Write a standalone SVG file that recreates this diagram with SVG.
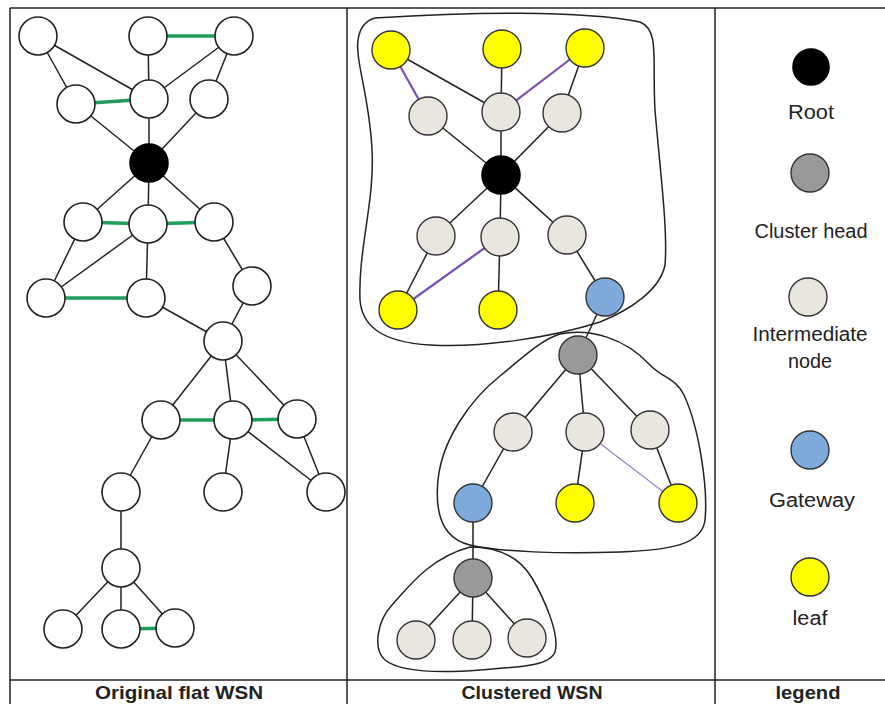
<svg xmlns="http://www.w3.org/2000/svg" width="885" height="704" viewBox="0 0 885 704">
<style>
.e{stroke:#222;stroke-width:1.5;fill:none}
.g{stroke:#1f9e5a;stroke-width:3.5;fill:none}
.p{stroke:#7a4fb5;stroke-width:2.2;fill:none}
.pt{stroke:#9a80c8;stroke-width:1.2;fill:none}
.w{fill:#fff;stroke:#222;stroke-width:1.6}
.r{fill:#000;stroke:#000;stroke-width:1.6}
.y{fill:#ffff00;stroke:#333;stroke-width:1.4}
.i{fill:#e8e6df;stroke:#333;stroke-width:1.4}
.h{fill:#999;stroke:#333;stroke-width:1.4}
.b{fill:#7faadc;stroke:#333;stroke-width:1.4}
.cl{fill:none;stroke:#222;stroke-width:1.5}
.fr{stroke:#222;stroke-width:1.5}
.t{font-family:"Liberation Sans",Arial,sans-serif;font-size:20px;fill:#222;text-anchor:middle}
.tb{font-family:"Liberation Sans",Arial,sans-serif;font-size:19px;font-weight:bold;fill:#222;text-anchor:middle}
</style>
<rect width="885" height="704" fill="#fff"/>
<g id="frame">
<line class="fr" x1="10" y1="8" x2="885" y2="8"/>
<line class="fr" x1="10" y1="680" x2="885" y2="680"/>
<line class="fr" x1="10" y1="8" x2="10" y2="704"/>
<line class="fr" x1="347" y1="8" x2="347" y2="704"/>
<line class="fr" x1="715" y1="8" x2="715" y2="704"/>
</g>
<g id="clusters">
<path class="cl" d="M 375,18 C 470,12 580,10 640,22 C 660,30 652,60 655,110 C 660,170 668,230 665,265 C 660,290 630,310 600,322 C 550,338 480,348 430,345 C 380,342 362,325 360,300 C 358,250 375,200 372,150 C 370,100 355,60 358,40 C 360,25 368,20 375,18 Z"/>
<path class="cl" d="M 560,334 C 590,328 625,338 650,365 C 662,378 676,378 684,395 C 700,430 708,490 705,520 C 702,545 670,550 620,552 C 560,554 500,552 470,545 C 440,538 435,510 438,480 C 442,440 470,400 500,376 C 520,360 540,340 560,334 Z"/>
<path class="cl" d="M 470,547 C 500,547 520,558 532,578 C 545,600 560,635 555,652 C 550,666 520,667 480,670 C 440,673 400,672 385,660 C 372,648 378,620 392,605 C 410,585 430,558 470,547 Z"/>
</g>
<g id="connectors">
<line class="e" x1="38" y1="36" x2="76" y2="104"/>
<line class="e" x1="38" y1="36" x2="149" y2="99"/>
<line class="e" x1="148" y1="36" x2="149" y2="99"/>
<line class="e" x1="234" y1="36" x2="149" y2="99"/>
<line class="e" x1="234" y1="36" x2="209" y2="99"/>
<line class="g" x1="148" y1="36" x2="234" y2="36"/>
<line class="g" x1="76" y1="104" x2="149" y2="99"/>
<line class="e" x1="76" y1="104" x2="149" y2="163"/>
<line class="e" x1="149" y1="99" x2="149" y2="163"/>
<line class="e" x1="209" y1="99" x2="149" y2="163"/>
<line class="e" x1="149" y1="163" x2="83" y2="222"/>
<line class="e" x1="149" y1="163" x2="148" y2="224"/>
<line class="e" x1="149" y1="163" x2="214" y2="222"/>
<line class="g" x1="83" y1="222" x2="148" y2="224"/>
<line class="g" x1="148" y1="224" x2="214" y2="222"/>
<line class="e" x1="83" y1="222" x2="46" y2="298"/>
<line class="e" x1="148" y1="224" x2="46" y2="298"/>
<line class="e" x1="148" y1="224" x2="146" y2="298"/>
<line class="e" x1="214" y1="222" x2="252" y2="286"/>
<line class="g" x1="46" y1="298" x2="146" y2="298"/>
<line class="e" x1="146" y1="298" x2="223" y2="341"/>
<line class="e" x1="252" y1="286" x2="223" y2="341"/>
<line class="e" x1="223" y1="341" x2="161" y2="420"/>
<line class="e" x1="223" y1="341" x2="233" y2="420"/>
<line class="e" x1="223" y1="341" x2="297" y2="419"/>
<line class="g" x1="161" y1="420" x2="233" y2="420"/>
<line class="g" x1="233" y1="420" x2="297" y2="419"/>
<line class="e" x1="161" y1="420" x2="121" y2="492"/>
<line class="e" x1="233" y1="420" x2="223" y2="492"/>
<line class="e" x1="233" y1="420" x2="326" y2="492"/>
<line class="e" x1="297" y1="419" x2="326" y2="492"/>
<line class="e" x1="121" y1="492" x2="121" y2="568"/>
<line class="e" x1="121" y1="568" x2="63" y2="629"/>
<line class="e" x1="121" y1="568" x2="121" y2="629"/>
<line class="e" x1="121" y1="568" x2="175" y2="628"/>
<line class="g" x1="121" y1="629" x2="175" y2="628"/>
<line class="p" x1="391" y1="50" x2="428" y2="116"/>
<line class="e" x1="391" y1="50" x2="501" y2="112"/>
<line class="e" x1="502" y1="49" x2="501" y2="112"/>
<line class="p" x1="585" y1="48" x2="501" y2="112"/>
<line class="e" x1="585" y1="48" x2="562" y2="113"/>
<line class="e" x1="428" y1="116" x2="501" y2="175"/>
<line class="e" x1="501" y1="112" x2="501" y2="175"/>
<line class="e" x1="562" y1="113" x2="501" y2="175"/>
<line class="e" x1="501" y1="175" x2="436" y2="236"/>
<line class="e" x1="501" y1="175" x2="500" y2="237"/>
<line class="e" x1="501" y1="175" x2="567" y2="235"/>
<line class="e" x1="436" y1="236" x2="398" y2="310"/>
<line class="p" x1="500" y1="237" x2="398" y2="310"/>
<line class="e" x1="500" y1="237" x2="498" y2="310"/>
<line class="e" x1="567" y1="235" x2="605" y2="297"/>
<line class="e" x1="605" y1="297" x2="578" y2="355"/>
<line class="e" x1="578" y1="355" x2="513" y2="432"/>
<line class="e" x1="578" y1="355" x2="585" y2="432"/>
<line class="e" x1="578" y1="355" x2="650" y2="430"/>
<line class="e" x1="513" y1="432" x2="473" y2="503"/>
<line class="e" x1="585" y1="432" x2="575" y2="503"/>
<line class="pt" x1="585" y1="432" x2="678" y2="503"/>
<line class="e" x1="650" y1="430" x2="678" y2="503"/>
<line class="e" x1="473" y1="503" x2="473" y2="578"/>
<line class="e" x1="473" y1="578" x2="416" y2="640"/>
<line class="e" x1="473" y1="578" x2="472" y2="640"/>
<line class="e" x1="473" y1="578" x2="527" y2="638"/>
</g>
<g id="flat-nodes">
<circle id="f1" class="w" cx="38" cy="36" r="19"/>
<circle id="f2" class="w" cx="148" cy="36" r="19"/>
<circle id="f3" class="w" cx="234" cy="36" r="19"/>
<circle id="f4" class="w" cx="76" cy="104" r="19"/>
<circle id="f5" class="w" cx="149" cy="99" r="19"/>
<circle id="f6" class="w" cx="209" cy="99" r="19"/>
<circle id="f7" class="r" cx="149" cy="163" r="19"/>
<circle id="f8" class="w" cx="83" cy="222" r="19"/>
<circle id="f9" class="w" cx="148" cy="224" r="19"/>
<circle id="f10" class="w" cx="214" cy="222" r="19"/>
<circle id="f11" class="w" cx="46" cy="298" r="19"/>
<circle id="f12" class="w" cx="146" cy="298" r="19"/>
<circle id="f13" class="w" cx="252" cy="286" r="19"/>
<circle id="f14" class="w" cx="223" cy="341" r="19"/>
<circle id="f15" class="w" cx="161" cy="420" r="19"/>
<circle id="f16" class="w" cx="233" cy="420" r="19"/>
<circle id="f17" class="w" cx="297" cy="419" r="19"/>
<circle id="f18" class="w" cx="121" cy="492" r="19"/>
<circle id="f19" class="w" cx="223" cy="492" r="19"/>
<circle id="f20" class="w" cx="326" cy="492" r="19"/>
<circle id="f21" class="w" cx="121" cy="568" r="19"/>
<circle id="f22" class="w" cx="63" cy="629" r="19"/>
<circle id="f23" class="w" cx="121" cy="629" r="19"/>
<circle id="f24" class="w" cx="175" cy="628" r="19"/>
</g>
<g id="clustered-nodes">
<circle id="c1" class="y" cx="391" cy="50" r="19"/>
<circle id="c2" class="y" cx="502" cy="49" r="19"/>
<circle id="c3" class="y" cx="585" cy="48" r="19"/>
<circle id="c4" class="i" cx="428" cy="116" r="19"/>
<circle id="c5" class="i" cx="501" cy="112" r="19"/>
<circle id="c6" class="i" cx="562" cy="113" r="19"/>
<circle id="c7" class="r" cx="501" cy="175" r="19"/>
<circle id="c8" class="i" cx="436" cy="236" r="19"/>
<circle id="c9" class="i" cx="500" cy="237" r="19"/>
<circle id="c10" class="i" cx="567" cy="235" r="19"/>
<circle id="c11" class="y" cx="398" cy="310" r="19"/>
<circle id="c12" class="y" cx="498" cy="310" r="19"/>
<circle id="c13" class="b" cx="605" cy="297" r="19"/>
<circle id="c14" class="h" cx="578" cy="355" r="19"/>
<circle id="c15" class="i" cx="513" cy="432" r="19"/>
<circle id="c16" class="i" cx="585" cy="432" r="19"/>
<circle id="c17" class="i" cx="650" cy="430" r="19"/>
<circle id="c18" class="b" cx="473" cy="503" r="19"/>
<circle id="c19" class="y" cx="575" cy="503" r="19"/>
<circle id="c20" class="y" cx="678" cy="503" r="19"/>
<circle id="c21" class="h" cx="473" cy="578" r="19"/>
<circle id="c22" class="i" cx="416" cy="640" r="19"/>
<circle id="c23" class="i" cx="472" cy="640" r="19"/>
<circle id="c24" class="i" cx="527" cy="638" r="19"/>
</g>
<g id="legend">
<g id="lg-root"><circle class="r" cx="811" cy="67" r="18"/><text class="t" x="811" y="119" textLength="46" lengthAdjust="spacingAndGlyphs">Root</text></g>
<g id="lg-head"><circle class="h" cx="810" cy="173" r="19"/><text class="t" x="811" y="238" textLength="113" lengthAdjust="spacingAndGlyphs">Cluster head</text></g>
<g id="lg-inter"><circle class="i" cx="808" cy="297" r="19"/><text class="t" x="810" y="341" textLength="115" lengthAdjust="spacingAndGlyphs">Intermediate</text><text class="t" x="810" y="368" textLength="44" lengthAdjust="spacingAndGlyphs">node</text></g>
<g id="lg-gw"><circle class="b" cx="810" cy="450" r="19"/><text class="t" x="812" y="507" textLength="86" lengthAdjust="spacingAndGlyphs">Gateway</text></g>
<g id="lg-leaf"><circle class="y" cx="810" cy="577" r="19"/><text class="t" x="810" y="625" textLength="35" lengthAdjust="spacingAndGlyphs">leaf</text></g>
</g>
<g id="captions">
<text class="tb" x="179" y="699" textLength="168" lengthAdjust="spacingAndGlyphs">Original flat WSN</text>
<text class="tb" x="532" y="699" textLength="141" lengthAdjust="spacingAndGlyphs">Clustered WSN</text>
<text class="tb" x="808" y="699" textLength="65" lengthAdjust="spacingAndGlyphs">legend</text>
</g>
</svg>
